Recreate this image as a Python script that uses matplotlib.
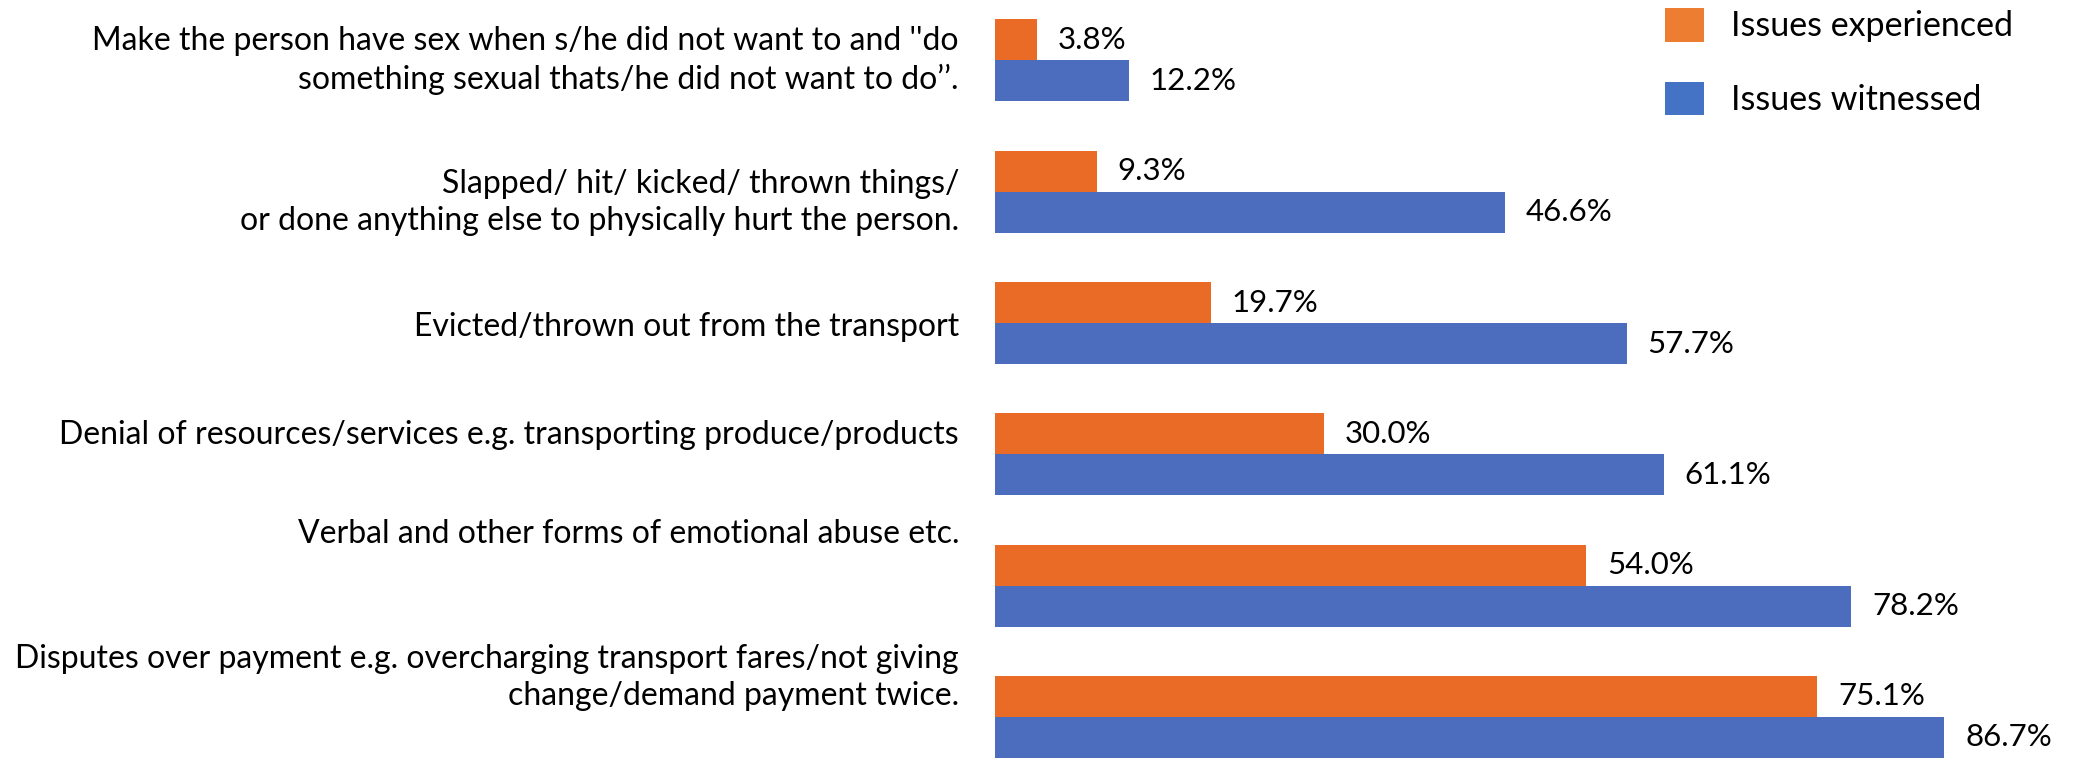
import matplotlib
matplotlib.use("Agg")
import matplotlib.pyplot as plt
from matplotlib.patches import Patch
from matplotlib.transforms import blended_transform_factory
import numpy as np

# ---- data ----
categories = [
    "Make the person have sex when s/he did not want to and ''do\nsomething sexual thats/he did not want to do\u2019\u2019.",
    "Slapped/ hit/ kicked/ thrown things/\nor done anything else to physically hurt the person.",
    "Evicted/thrown out from the transport",
    "Denial of resources/services e.g. transporting produce/products",
    "Verbal and other forms of emotional abuse etc.",
    "Disputes over payment e.g. overcharging transport fares/not giving\nchange/demand payment twice.",
]
experienced = [3.8, 9.3, 19.7, 30.0, 54.0, 75.1]
witnessed = [12.2, 46.6, 57.7, 61.1, 78.2, 86.7]
series_names = ["Issues experienced", "Issues witnessed"]

# ---- style / layout ----
W, H, DPI = 2083, 761, 100
FONT = ["Lato", "DejaVu Sans"]
bar_orange, bar_blue = "#E96B26", "#4C6CBD"
key_orange, key_blue = "#ED7D31", "#4472C4"
label_size = 23
value_size = 22.5
legend_size = 24.5
bar_h = 0.312
# vertical nudge of each category label relative to its bar pair
label_nudge = [0.0, 0.08, 0.03, -0.15, -0.39, -0.30]

plt.rcParams["font.family"] = FONT
fig = plt.figure(figsize=(W / DPI, H / DPI), dpi=DPI)
ax_left_px = 995
ax = fig.add_axes([ax_left_px / W, 0, 1 - ax_left_px / W, 1])

y = np.arange(len(categories))
ax.barh(y - bar_h / 2, experienced, height=bar_h, color=bar_orange, linewidth=0)
ax.barh(y + bar_h / 2, witnessed, height=bar_h, color=bar_blue, linewidth=0)

ax.set_xlim(0, (W - ax_left_px) / 10.95)
ax.set_ylim(5.3355, -0.4604)
ax.axis("off")

# value labels
pad = 1.9
for yi, v in zip(y, experienced):
    ax.text(v + pad, yi - bar_h / 2, f"{v:.1f}%", va="center", ha="left",
            fontsize=value_size, color="black")
for yi, v in zip(y, witnessed):
    ax.text(v + pad, yi + bar_h / 2, f"{v:.1f}%", va="center", ha="left",
            fontsize=value_size, color="black")

# category labels to the left of the bars
trans = blended_transform_factory(ax.transAxes, ax.transData)
x_lab = (959 - ax_left_px) / (W - ax_left_px)
for yi, text, dn in zip(y, categories, label_nudge):
    ax.text(x_lab, yi + dn, text, transform=trans, ha="right", va="center",
            multialignment="right", fontsize=label_size, linespacing=1.3,
            color="black", clip_on=False)

# legend
handles = [Patch(facecolor=key_orange, edgecolor="none"),
           Patch(facecolor=key_blue, edgecolor="none")]
fs_px = legend_size * DPI / 72
leg = fig.legend(handles, series_names, loc="upper left",
                 bbox_to_anchor=(1665 / W, 1 - 8 / H), frameon=False,
                 fontsize=legend_size, handlelength=39 / fs_px,
                 handleheight=39 / fs_px, handletextpad=27 / fs_px,
                 labelspacing=1.15, borderpad=0, borderaxespad=0)

fig.savefig("out.png", dpi=DPI, facecolor="white")
